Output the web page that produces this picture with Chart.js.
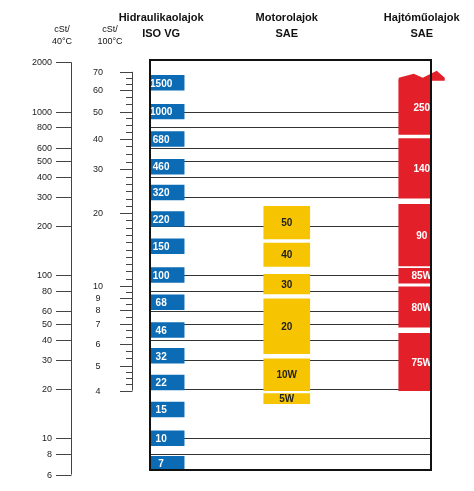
<!DOCTYPE html>
<html>
<head>
<meta charset="utf-8">
<script src="https://cdn.jsdelivr.net/npm/chart.js@4"></script>
<style>
body{margin:0;background:#fff}
#wrap{width:474px;height:491px}
</style>
</head>
<body>
<div id="wrap"><canvas id="c"></canvas></div>
<script>
// cSt at 40°C scale
const ticks40 = [2000,1000,800,600,500,400,300,200,100,80,60,50,40,30,20,10,8,6];
const gridLines = [1000,800,600,500,400,300,200,100,80,60,50,40,30,20,10,8];
// cSt at 100°C scale and the 40°C viscosity each mark sits at
const ticks100 = [70,60,50,40,30,20,10,9,8,7,6,5,4];
const ticks100at40 = [1753,1362,1000,684,443,239,85.7,72.4,61.2,50.3,37.9,27.9,19.6];

const isoGrades = ['1500','1000','680','460','320','220','150','100','68','46','32','22','15','10','7'];
const isoValues = [1500,1000,680,460,320,220,150,100,68,46,32,22,15,10,7];

const motorGrades = ['50','40','30','20','10W','5W'];
const motorLow  = [166,113,76.5,33,19.6,16.3];
const motorHigh = [263,157,101,71.4,30.7,18.8];

const gearGrades = ['250','140','90','85W','80W','75W'];
const gearLow  = [724,295,113.5,89,48,19.6];
const gearHigh = [1567,684,271,110,84.5,44];

const columns = ['Hidraulikaolajok\nISO VG','Motorolajok\nSAE','Hajtóműolajok\nSAE'];

const BLUE='#0b6bb4', YELLOW='#f6c400', RED='#e3202a';

const data = {
  datasets: [{
    label: columns[0],
    data: isoValues.map(v => ({x:0.61, y:[v/1.11, v*1.11]})),
    backgroundColor: BLUE, barThickness: 46, grades: isoGrades, textColor:'#fff'
  },{
    label: columns[1],
    data: motorLow.map((v,i) => ({x:1.46, y:[v, motorHigh[i]]})),
    backgroundColor: YELLOW, barThickness: 46, grades: motorGrades, textColor:'#222'
  },{
    label: columns[2],
    data: gearLow.map((v,i) => ({x:2.41, y:[v, gearHigh[i]]})),
    backgroundColor: RED, barThickness: 46, grades: gearGrades, textColor:'#fff'
  }]
};

const decor = {
  id:'decor',
  beforeDatasetsDraw(chart){
    const {ctx, chartArea:a, scales:{y}} = chart;
    ctx.save();
    ctx.strokeStyle='#333'; ctx.lineWidth=1;
    gridLines.forEach(v => {
      const py = Math.round(y.getPixelForValue(v))+0.5;
      ctx.beginPath(); ctx.moveTo(a.left,py); ctx.lineTo(a.right,py); ctx.stroke();
    });
    ctx.restore();
  },
  afterDatasetsDraw(chart){
    const {ctx, chartArea:a, scales:{y}} = chart;
    ctx.save();
    // bar labels
    ctx.font='bold 10px Arial, "Liberation Sans"';
    ctx.textAlign='center'; ctx.textBaseline='middle';
    chart.data.datasets.forEach((ds,di) => {
      chart.getDatasetMeta(di).data.forEach((el,i) => {
        ctx.fillStyle = ds.textColor;
        ctx.fillText(ds.grades[i], el.x, (el.y+el.base)/2+1);
      });
    });
    // jagged top of the 250 gear block
    const top = chart.getDatasetMeta(2).data[0];
    ctx.fillStyle=RED;
    ctx.beginPath();
    const l = top.x-23, r = top.x+23, t = top.y;
    ctx.moveTo(l,t+1); ctx.lineTo(l,t-2); ctx.lineTo(l+15,t-6); ctx.lineTo(l+24,t-2);
    ctx.lineTo(l+38,t-9); ctx.lineTo(r,t-2); ctx.lineTo(r,t+1); ctx.closePath(); ctx.fill();
    // frame
    ctx.strokeStyle='#111'; ctx.lineWidth=2;
    ctx.strokeRect(a.left, a.top, a.right-a.left, a.bottom-a.top);
    // 40°C axis
    ctx.strokeStyle='#444'; ctx.lineWidth=1;
    const p2000 = y.getPixelForValue(2000), p6 = y.getPixelForValue(6);
    ctx.beginPath(); ctx.moveTo(71.5,p2000); ctx.lineTo(71.5,p6); ctx.stroke();
    ctx.font='9px Arial, "Liberation Sans"'; ctx.fillStyle='#222'; ctx.textAlign='right';
    ticks40.forEach(v => {
      const py = Math.round(y.getPixelForValue(v))+0.5;
      ctx.beginPath(); ctx.moveTo(56,py); ctx.lineTo(71.5,py); ctx.stroke();
      ctx.fillText(String(v), 52, py);
    });
    // 100°C axis
    const ys = ticks100at40.map(v => y.getPixelForValue(v));
    ctx.beginPath(); ctx.moveTo(132.5,ys[0]); ctx.lineTo(132.5,ys[ys.length-1]); ctx.stroke();
    ctx.textAlign='center';
    ys.forEach((py,i) => {
      py = Math.round(py)+0.5;
      ctx.beginPath(); ctx.moveTo(120,py); ctx.lineTo(132.5,py); ctx.stroke();
      ctx.fillText(String(ticks100[i]), 98, py);
      if (i < ys.length-1) {
        const gap = ys[i+1]-ys[i], n = Math.max(1, Math.round(gap/7));
        for (let k=1;k<n;k++){
          const my = Math.round(ys[i]+gap*k/n)+0.5;
          ctx.beginPath(); ctx.moveTo(126,my); ctx.lineTo(132.5,my); ctx.stroke();
        }
      }
    });
    // headers
    ctx.fillStyle='#111';
    ctx.font='bold 11px Arial, "Liberation Sans"';
    chart.data.datasets.forEach((ds,di) => {
      const cx = chart.getDatasetMeta(di).data[0].x;
      ds.label.split('\n').forEach((t,j) => ctx.fillText(t, cx, 18+j*16));
    });
    ctx.font='9px Arial, "Liberation Sans"';
    ctx.fillText('cSt/',62,30); ctx.fillText('40°C',62,42);
    ctx.fillText('cSt/',110,30); ctx.fillText('100°C',110,42);
    ctx.restore();
  }
};

new Chart(document.getElementById('c').getContext('2d'), {
  type:'bar',
  data:data,
  plugins:[decor],
  options:{
    responsive:true, maintainAspectRatio:false, animation:false,
    layout:{padding:{left:150,top:60,right:43,bottom:21}},
    plugins:{legend:{display:false}, tooltip:{enabled:false}},
    scales:{
      x:{type:'linear', min:0, max:3, offset:false, display:false},
      y:{type:'logarithmic', min:6.4, max:2070, display:false}
    }
  }
});
</script>
</body>
</html>
